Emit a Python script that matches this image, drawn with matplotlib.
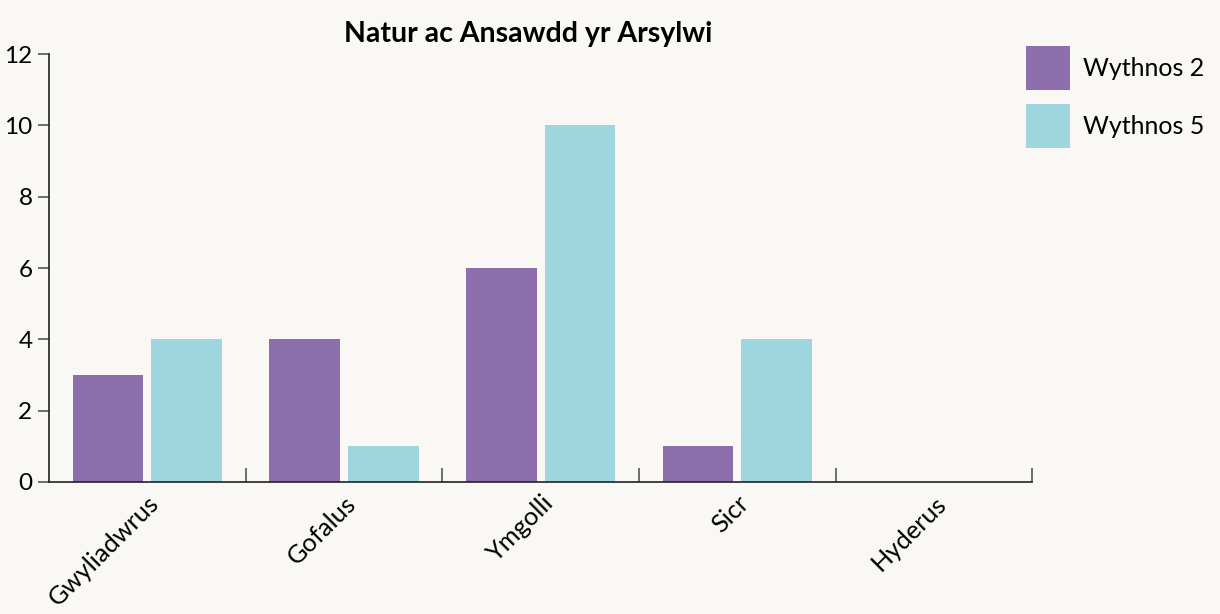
import matplotlib.pyplot as plt
import numpy as np
from matplotlib.patches import Patch

# data
categories = ['Gwyliadwrus', 'Gofalus', 'Ymgolli', 'Sicr', 'Hyderus']
week2 = [3, 4, 6, 1, 0]
week5 = [4, 1, 10, 4, 0]
series_labels = ['Wythnos 2', 'Wythnos 5']
yticks = [0, 2, 4, 6, 8, 10, 12]

bg = '#f9f8f5'
purple = '#8e6fad'
blue = '#9dd6df'

plt.rcParams['font.family'] = ['Lato', 'DejaVu Sans']

fig = plt.figure(figsize=(12.2, 6.14), dpi=100, facecolor=bg)
ax = fig.add_axes([0.0402, 0.215, 0.806, 0.697], facecolor=bg)

x = np.arange(len(categories))
w = 0.36
gap = 0.04
ax.bar(x - (w + gap) / 2, week2, w, color=purple, linewidth=0)
ax.bar(x + (w + gap) / 2, week5, w, color=blue, linewidth=0)

ax.set_xlim(-0.5, len(categories) - 0.5)
ax.set_ylim(0, 12)
ax.set_yticks(yticks)

# category labels at centers, boundary ticks pointing up
ax.set_xticks(x)
ax.set_xticklabels(categories, rotation=45, ha='right', rotation_mode='anchor', fontsize=18.3)
ax.tick_params(axis='x', length=0, pad=7)
ax.set_xticks(np.arange(0.5, len(categories), 1.0), minor=True)
ax.tick_params(axis='x', which='minor', direction='in', length=10, width=1.2, color='#555555')
ax.tick_params(axis='y', labelsize=17.5, length=8, width=1.2, color='#555555', pad=4)

for s in ['top', 'right']:
    ax.spines[s].set_visible(False)
for s in ['left', 'bottom']:
    ax.spines[s].set_linewidth(1.2)
    ax.spines[s].set_color('#222222')

ax.set_title('Natur ac Ansawdd yr Arsylwi', fontsize=20.5, fontweight='bold', pad=9, x=0.487)

handles = [Patch(facecolor=purple), Patch(facecolor=blue)]
fig.legend(handles, series_labels, loc='upper left', bbox_to_anchor=(0.8331, 0.941),
           frameon=False, fontsize=18, handlelength=1.76, handleheight=2.33,
           handletextpad=0.5, labelspacing=0.56, borderaxespad=0)

fig.savefig('out.png', dpi=100, facecolor=bg)
